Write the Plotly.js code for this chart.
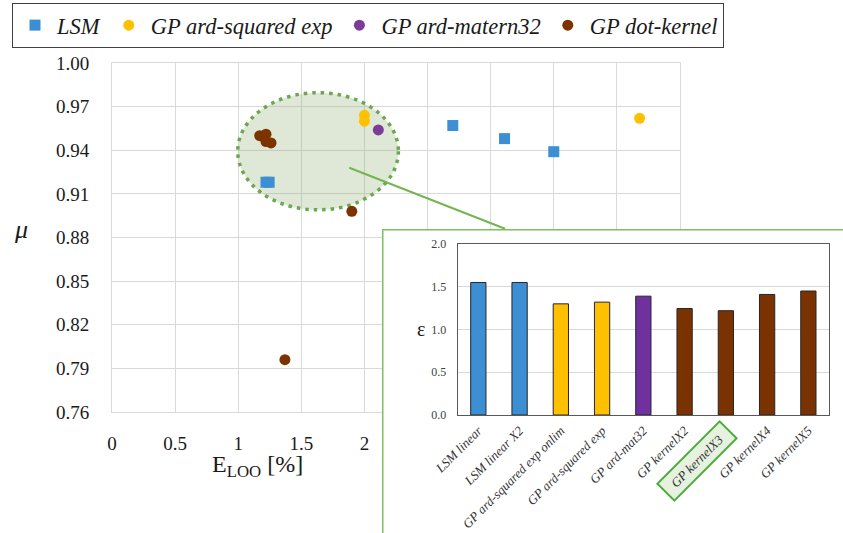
<!DOCTYPE html>
<html><head><meta charset="utf-8">
<script src="https://cdn.plot.ly/plotly-3.0.1.min.js"></script>
<style>html,body{margin:0;padding:0;background:#fff}</style>
</head><body><div id="chart" style="width:843px;height:533px"></div>
<script>
// ---- main scatter data (E_LOO [%], mu) ----
const lsmX = [1.22, 1.245, 2.70, 3.11, 3.50];
const lsmY = [0.918, 0.918, 0.957, 0.948, 0.939];
const sqExpX = [2.00, 2.00, 4.18];
const sqExpY = [0.964, 0.960, 0.962];
const maternX = [2.11];
const maternY = [0.954];
const dotX = [1.17, 1.22, 1.22, 1.26, 1.90, 1.37];
const dotY = [0.950, 0.951, 0.946, 0.945, 0.898, 0.796];
const seriesNames = ['LSM', 'GP ard-squared exp', 'GP ard-matern32', 'GP dot-kernel'];
const xTickVals = [0, 0.5, 1, 1.5, 2, 2.5, 3, 3.5, 4, 4.5];
const xTickText = ['0', '0.5', '1', '1.5', '2', '2.5', '3', '3.5', '4', '4.5'];
const yTickVals = [0.76, 0.79, 0.82, 0.85, 0.88, 0.91, 0.94, 0.97, 1.00];
// ---- inset bar data (epsilon) ----
const barCategories = ['LSM linear', 'LSM linear X2', 'GP ard-squared exp onlim', 'GP ard-squared exp',
  'GP ard-mat32', 'GP kernelX2', 'GP kernelX3', 'GP kernelX4', 'GP kernelX5'];
const barValues = [1.55, 1.55, 1.30, 1.32, 1.39, 1.245, 1.22, 1.41, 1.45];
const barGroups = ['LSM', 'LSM', 'sq', 'sq', 'mat', 'dot', 'dot', 'dot', 'dot'];
const highlightedCategory = 'GP kernelX3';

const SERIF = 'Liberation Serif, Times New Roman, serif';
const colBlue = '#3d8fd4', colYellow = '#ffc000', colPurple = '#7d3c98', colBrown = '#7b3300';
const groupColor = {LSM: '#3d8fd4', sq: '#ffc000', mat: '#7030a0', dot: '#7a3200'};

const W = 843, H = 533;
const px = v => v / W;          // pixel x -> paper
const py = v => 1 - v / H;      // pixel y -> paper

const plainCats = barCategories.filter(c => c !== highlightedCategory);

const traces = [
  {type: 'scatter', mode: 'markers', name: seriesNames[0], x: lsmX, y: lsmY, xaxis: 'x', yaxis: 'y',
   marker: {symbol: 'square', size: 11, color: colBlue}},
  {type: 'scatter', mode: 'markers', name: seriesNames[1], x: sqExpX, y: sqExpY, xaxis: 'x', yaxis: 'y',
   marker: {symbol: 'circle', size: 11, color: colYellow}},
  {type: 'scatter', mode: 'markers', name: seriesNames[2], x: maternX, y: maternY, xaxis: 'x', yaxis: 'y',
   marker: {symbol: 'circle', size: 11, color: colPurple}},
  {type: 'scatter', mode: 'markers', name: seriesNames[3], x: dotX, y: dotY, xaxis: 'x', yaxis: 'y',
   marker: {symbol: 'circle', size: 11, color: colBrown}},
  // empty trace to create the inset cover subplot
  {type: 'scatter', mode: 'markers', x: [], y: [], xaxis: 'x2', yaxis: 'y2', showlegend: false, hoverinfo: 'skip'},
  {type: 'bar', x: barCategories, y: barValues, xaxis: 'x3', yaxis: 'y3', showlegend: false, width: 0.37,
   marker: {color: barGroups.map(g => groupColor[g]), line: {color: '#262626', width: 1}}}
];

const layout = {
  width: W, height: H,
  margin: {l: 0, r: 0, t: 0, b: 0},
  paper_bgcolor: '#fff', plot_bgcolor: '#fff',
  font: {family: SERIF, color: '#1a1a1a'},
  showlegend: true,
  legend: {orientation: 'h', x: px(12), y: py(3), xanchor: 'left', yanchor: 'top', itemwidth: 34,
    bordercolor: '#404040', borderwidth: 1, bgcolor: '#fff',
    font: {family: SERIF, size: 22.5, style: 'italic', color: '#1a1a1a'}},
  xaxis: {domain: [px(112), px(680)], range: [0, 4.5], tickmode: 'array', tickvals: xTickVals, ticktext: xTickText,
    showgrid: true, gridcolor: '#d9d9d9', zeroline: false, showline: true, mirror: true, linecolor: '#d9d9d9',
    ticks: '', ticklabelstandoff: 14, tickfont: {family: SERIF, size: 19, color: '#1a1a1a'}, fixedrange: true},
  yaxis: {domain: [1 - 412 / H, 1 - 63 / H], range: [0.76, 1.0], tickmode: 'array', tickvals: yTickVals,
    tickformat: '.2f', showgrid: true, gridcolor: '#d9d9d9', zeroline: false, showline: true, mirror: true,
    linecolor: '#d9d9d9', ticks: '', ticklabelstandoff: 18, tickfont: {family: SERIF, size: 19, color: '#1a1a1a'}},
  xaxis2: {domain: [px(382), 1], range: [0, 1], visible: false, anchor: 'y2', fixedrange: true},
  yaxis2: {domain: [0, py(229)], range: [0, 1], visible: false, anchor: 'x2', fixedrange: true},
  xaxis3: {domain: [px(457.7), px(829)], range: [-0.5, 8.5], anchor: 'y3', type: 'category',
    categoryorder: 'array', categoryarray: barCategories,
    tickmode: 'array', tickvals: plainCats, ticktext: plainCats,
    tickangle: -45, ticks: '', showline: true, mirror: true, linecolor: '#595959', linewidth: 1,
    ticklabelstandoff: 2, tickfont: {family: SERIF, size: 13, style: 'italic', color: '#333'}},
  yaxis3: {domain: [1 - 415 / H, 1 - 244 / H], range: [0, 2], dtick: 0.5, tickformat: '.1f', anchor: 'x3',
    showgrid: true, gridcolor: '#d9d9d9', zeroline: false, showline: true, mirror: true, linecolor: '#595959',
    ticks: '', ticklabelstandoff: 8, tickfont: {family: SERIF, size: 12, color: '#404040'}},
  shapes: [
    {type: 'circle', xref: 'x', yref: 'y', x0: 0.996, x1: 2.269, y0: 0.899, y1: 0.9796, layer: 'between',
     fillcolor: 'rgba(150,180,120,0.3)', line: {color: '#6aa84f', width: 3.5, dash: '3.5px,5px'}},
    {type: 'rect', xref: 'x2', yref: 'y2', x0: 0, x1: 1.2, y0: -0.2, y1: 1, layer: 'below',
     fillcolor: '#ffffff', line: {color: '#7cc061', width: 3}},
    {type: 'line', xref: 'x', yref: 'y', x0: 1.88, y0: 0.928, x1: 3.114, y1: 0.886, layer: 'above',
     line: {color: '#74b552', width: 2}}
  ],
  annotations: [
    {xref: 'paper', yref: 'paper', x: px(257), y: py(466), xanchor: 'center', yanchor: 'middle', showarrow: false,
     text: 'E<sub>LOO</sub> [%]', font: {family: SERIF, size: 24, color: '#1a1a1a'}},
    {xref: 'paper', yref: 'paper', x: px(21), y: py(229), xanchor: 'center', yanchor: 'middle', showarrow: false,
     text: 'μ', font: {family: SERIF, size: 26, style: 'italic', color: '#1a1a1a'}},
    {xref: 'paper', yref: 'paper', x: px(421), y: py(329), xanchor: 'center', yanchor: 'middle', showarrow: false,
     text: 'ε', font: {family: SERIF, size: 20, color: '#1a1a1a'}},
    {xref: 'paper', yref: 'paper', x: px(697), y: py(461), xanchor: 'center', yanchor: 'middle', showarrow: false,
     text: highlightedCategory, textangle: -45, width: 82, height: 18, borderpad: 2, borderwidth: 2,
     bordercolor: '#4cae3a', bgcolor: '#e6f1e0', font: {family: SERIF, size: 13, style: 'italic', color: '#333'}}
  ]
};

Plotly.newPlot('chart', traces, layout, {displayModeBar: false, staticPlot: true});
</script>
</body></html>
